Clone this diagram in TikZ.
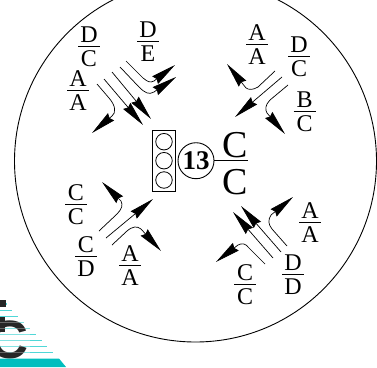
\documentclass[tikz,border=0pt]{standalone}
\usepackage{fontspec}
\setmainfont{Liberation Serif}
\newfontfamily\logofont{Liberation Sans}
\usetikzlibrary{arrows.meta}
\definecolor{logoteal}{RGB}{0,190,190}
\definecolor{stripeteal}{RGB}{80,215,215}
\tikzset{
  conn/.style={line width=0.7pt,-{Stealth[length=25pt,width=9.5pt,inset=2pt]}},
  lamp/.style={circle,draw,line width=0.8pt,minimum size=16.5pt,inner sep=0pt},
  letter/.style={font=\fontsize{24}{24}\selectfont,inner sep=0pt},
  bigletter/.style={font=\fontsize{38}{38}\selectfont,inner sep=0pt,anchor=base},
  rulebar/.style={line width=0.9pt},
  stripe/.style={stripeteal,line width=1.1pt}
}
\newcommand{\fracnode}[5]{%
  \coordinate (#1L) at (#2-11,#3);
  \coordinate (#1R) at (#2+11,#3);
  \draw[rulebar] (#1L) -- (#1R);
  \node[letter,anchor=base] (#1T) at (#2,#3-4) {#4};
  \node[letter,anchor=base] (#1B) at (#2,#3+20) {#5};
}
\begin{document}
\begin{tikzpicture}[x=1pt,y=-1pt]
\useasboundingbox (0,0) rectangle (377,367);
\clip (0,0) rectangle (377,367);
% outer circle
\node[circle,draw,line width=0.9pt,minimum size=362pt,inner sep=0pt] (ring) at (195.5,161) {};
% logo
\foreach \yy/\xx in {304/7,310.3/12,316.3/18,322.3/24,328.3/30,334.3/36,340.3/42,346.3/47,352.3/53}
  \draw[stripe] (0,\yy) -- (\xx,\yy);
\node[font=\logofont\bfseries\fontsize{54}{54}\selectfont,inner sep=0pt,anchor=base,text=black!85] (logoC) at (9,358) {C};
\fill[black!85] (0,300) rectangle (6,307);
\fill[black!85] (0,317) rectangle (5,332);
\foreach \yy in {322.3,328.3,334.3,340.3,346.3,352.3}
  \draw[white,opacity=0.3,line width=1pt] (0,\yy) -- (30,\yy);
\fill[logoteal] (0,358.5) -- (59,358.5) -- (66,367) -- (0,367) -- cycle;
% signal
\node[draw,line width=0.8pt,minimum width=22.6pt,minimum height=61pt,inner sep=0pt] (signal) at (164,160.7) {};
\node[lamp] (lampA) at (164,141.7) {};
\node[lamp] (lampB) at (164,160.7) {};
\node[lamp] (lampC) at (164,180) {};
\node[circle,draw,line width=0.9pt,minimum size=36pt,inner sep=0pt,font=\bfseries\fontsize{27}{27}\selectfont] (num) at (196,160.7) {13};
\coordinate (mainR) at (248,160.7);
\draw[rulebar] (num.east) -- (mainR);
\node[bigletter] (mainT) at (235,157) {C};
\node[bigletter] (mainB) at (235,194) {C};
% labels
\fracnode{f1}{89}{46}{D}{C}
\fracnode{f2}{148}{41}{D}{E}
\fracnode{f3}{78}{90}{A}{A}
\fracnode{f4}{257}{44}{A}{A}
\fracnode{f5}{299}{56}{D}{C}
\fracnode{f6}{304.5}{111}{B}{C}
\fracnode{f7}{76}{204}{C}{C}
\fracnode{f8}{86}{256}{C}{D}
\fracnode{f9}{130}{265}{A}{A}
\fracnode{f10}{310}{222}{A}{A}
\fracnode{f11}{293}{274}{D}{D}
\fracnode{f12}{245}{284}{C}{C}
% connector ends
\foreach \n/\p in {a1s/{97,84},a1t/{92,133},a2s/{104,79},a2t/{143,125},a3s/{112,72},a3t/{151,119},a4s/{120,67},a4t/{176,77},a5s/{126,61},a5t/{175,65},
  b1s/{275,71},b1t/{227,64},b2s/{282,77},b2t/{235,117},b3s/{288,85},b3t/{285,134},
  c1s/{99,231},c1t/{102,182},c2s/{106,238},c2t/{153,199},c3s/{112,245},c3t/{161,251},
  d1s/{287,246},d1t/{293,197},d2s/{281,252},d2t/{241,206},d3s/{273,258},d3t/{233,212},d4s/{265,264},d4t/{216,262}}
  \coordinate (\n) at (\p);
% NW
\draw[conn] (a1s) -- (109,98) .. controls (116,106) and (116,113) .. (112,116) -- (a1t);
\draw[conn] (a2s) -- (a2t);
\draw[conn] (a3s) -- (a3t);
\draw[conn] (a4s) -- (139,87) .. controls (145,93) and (149,95) .. (154,92) -- (a4t);
\draw[conn] (a5s) -- (143,78) .. controls (148,82) and (150,83) .. (154,81) -- (a5t);
% NE
\draw[conn] (b1s) -- (258,87) .. controls (253,90) and (249,90) .. (246,88) -- (b1t);
\draw[conn] (b2s) -- (b2t);
\draw[conn] (b3s) -- (270,100) .. controls (265,105) and (265,110) .. (267,113) -- (b3t);
% SW
\draw[conn] (c1s) -- (117,214) .. controls (122,209) and (123,205) .. (121,201) -- (c1t);
\draw[conn] (c2s) -- (c2t);
\draw[conn] (c3s) -- (127,231) .. controls (133,226) and (137,226) .. (141,229) -- (c3t);
% SE
\draw[conn] (d1s) -- (272,229) .. controls (268,224) and (268,220) .. (271,215) -- (d1t);
\draw[conn] (d2s) -- (d2t);
\draw[conn] (d3s) -- (d3t);
\draw[conn] (d4s) -- (249,248) .. controls (245,243) and (242,243) .. (238,245) -- (d4t);
\end{tikzpicture}
\end{document}
